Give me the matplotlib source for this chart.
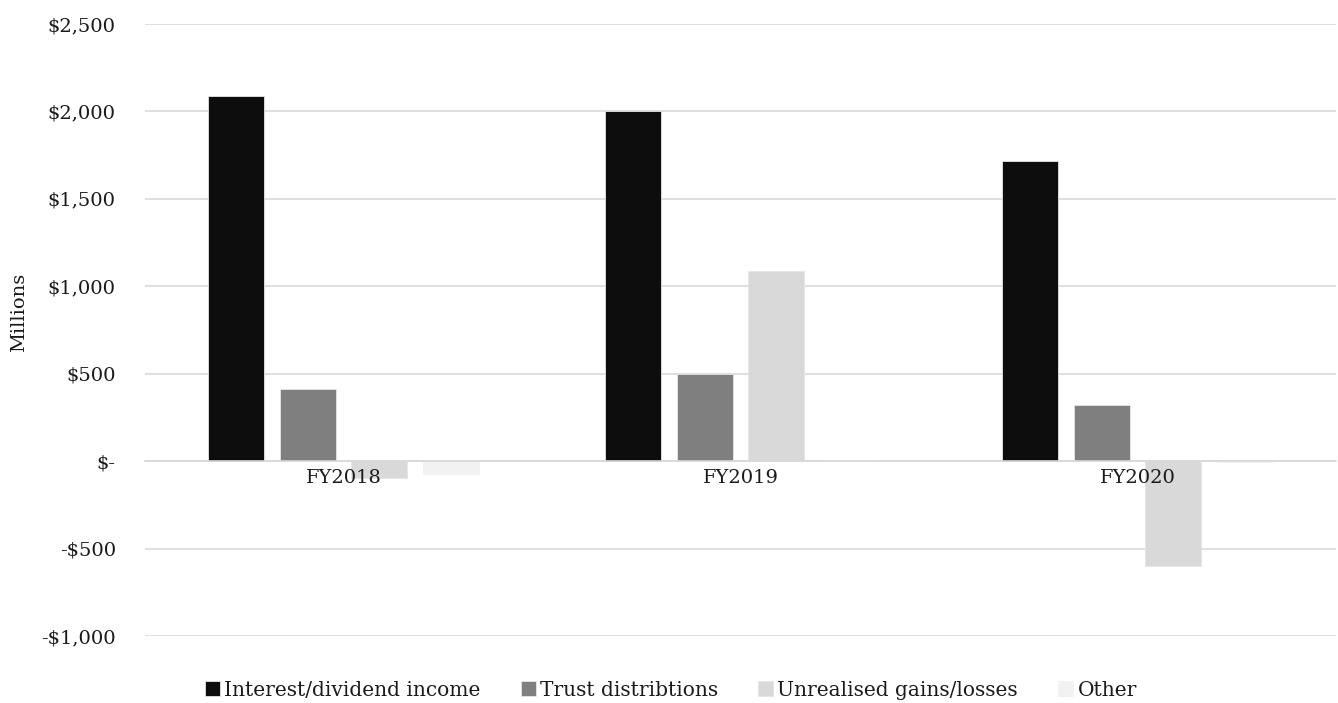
import numpy as np
import matplotlib.pyplot as plt
from matplotlib.ticker import FuncFormatter

# income components by financial year, $ millions
years = ["FY2018", "FY2019", "FY2020"]
interest_dividend = [2090, 2005, 1715]
trust_distributions = [415, 500, 320]
unrealised = [-95, 1090, -600]
other = [-75, 0, -5]

series = [
    ("Interest/dividend income", interest_dividend, "#0d0d0d"),
    ("Trust distribtions", trust_distributions, "#7f7f7f"),
    ("Unrealised gains/losses", unrealised, "#d9d9d9"),
    ("Other", other, "#f2f2f2"),
]

plt.rcParams["font.family"] = ["DejaVu Serif"]
text_color = "#1a1a1a"

fig = plt.figure(figsize=(13.38, 7.03), dpi=100)
ax = fig.add_axes([145 / 1338, 1 - 636 / 703, 1191 / 1338, 612 / 703])

x = np.arange(len(years))
width = 0.141
step = 0.181
for i, (name, vals, color) in enumerate(series):
    offset = (i - 1.5) * step
    ax.bar(x + offset, vals, width, color=color, label=name, zorder=1,
           edgecolor="#e6e6e6" if i < 3 else color, linewidth=0.6)

ax.set_xlim(-0.5, 2.5)
ax.set_ylim(-1000, 2500)
yticks = np.arange(-1000, 2501, 500)
ax.set_yticks(yticks)
# gridlines drawn by hand so tick labels can stay above the bars
for v in yticks:
    ax.axhline(v, color="#d9d9d9", linewidth=1.2, zorder=0)


def money(v, pos):
    if v == 0:
        return "$-"
    if v < 0:
        return f"-${abs(v):,.0f}"
    return f"${v:,.0f}"


ax.yaxis.set_major_formatter(FuncFormatter(money))

for s in ["top", "right", "left"]:
    ax.spines[s].set_visible(False)
ax.spines["bottom"].set_position(("data", 0))
ax.spines["bottom"].set_color("#d9d9d9")
ax.spines["bottom"].set_linewidth(1.2)

ax.set_xticks(x)
ax.set_xticklabels(years)
ax.tick_params(axis="x", length=0, labelsize=14, pad=6, colors=text_color)
ax.tick_params(axis="y", length=0, labelsize=14, pad=21, colors=text_color)
ax.set_ylabel("Millions", fontsize=14, color=text_color)
ax.yaxis.set_label_coords(-0.0985, 0.529)

leg = fig.legend(*ax.get_legend_handles_labels(), loc="center left",
                 bbox_to_anchor=(205 / 1338, 1 - 690 / 703), ncol=4, frameon=False,
                 fontsize=14.5, handlelength=0.75, handleheight=0.75, borderpad=0,
                 borderaxespad=0, handletextpad=0.2, columnspacing=2.0)
for t in leg.get_texts():
    t.set_color(text_color)

fig.savefig("out.png", dpi=100)
